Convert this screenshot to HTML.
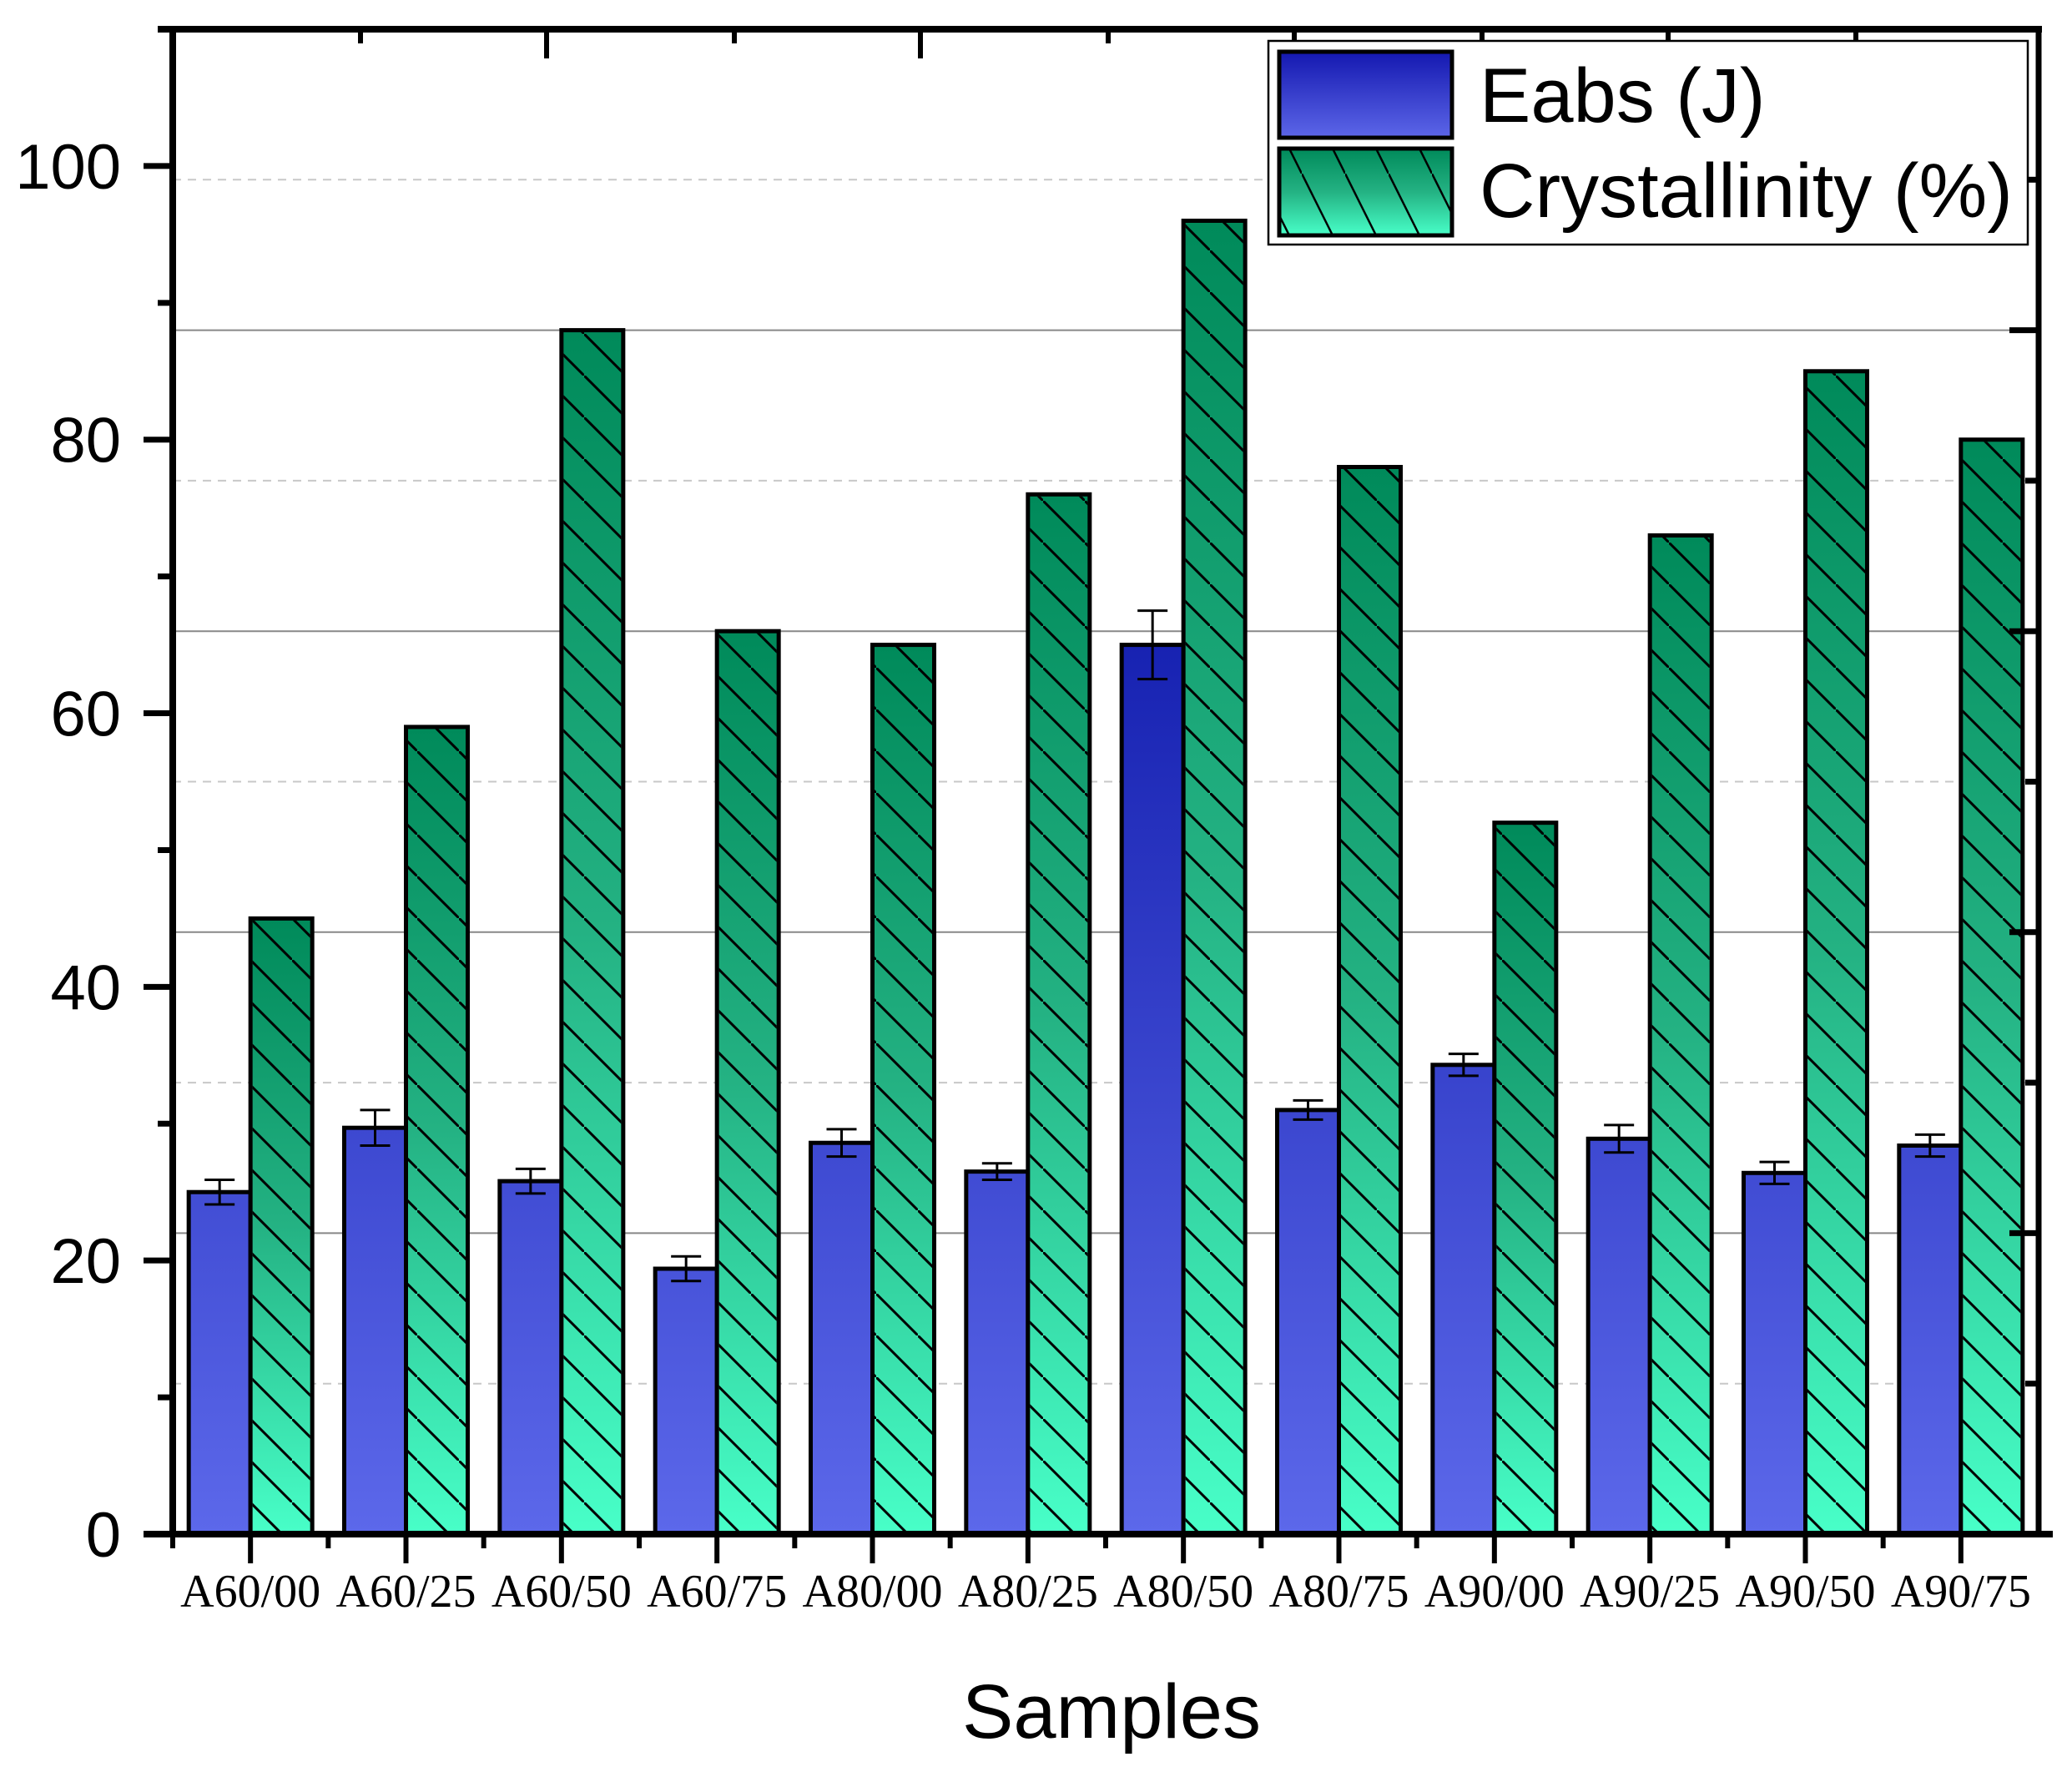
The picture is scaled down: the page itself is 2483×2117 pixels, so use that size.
<!DOCTYPE html>
<html><head><meta charset="utf-8"><style>
html,body{margin:0;padding:0;background:#fff;}
svg{display:block;}
</style></head><body>
<svg id="chart" width="2483" height="2117" viewBox="0 0 2483 2117" xmlns="http://www.w3.org/2000/svg">
<defs>
<linearGradient id="blueGrad" gradientUnits="userSpaceOnUse" x1="0" y1="740" x2="0" y2="1838">
<stop offset="0" stop-color="#1520b0"/><stop offset="1" stop-color="#5c68ea"/>
</linearGradient>
<linearGradient id="blueLeg" x1="0" y1="0" x2="0" y2="1">
<stop offset="0" stop-color="#1418b0"/><stop offset="1" stop-color="#5c66e8"/>
</linearGradient>
<linearGradient id="greenGrad" x1="0" y1="0" x2="0" y2="1">
<stop offset="0" stop-color="#008a5a"/><stop offset="0.5" stop-color="#24b283"/><stop offset="1" stop-color="#48ffc8"/>
</linearGradient>
<pattern id="hatch" patternUnits="userSpaceOnUse" x="0" y="0" width="50" height="50">
<line x1="0" y1="0" x2="50" y2="50" stroke="#000" stroke-width="3"/>
</pattern>
<pattern id="hatchLeg" patternUnits="userSpaceOnUse" width="52" height="104">
<line x1="0" y1="0" x2="52" y2="104" stroke="#000" stroke-width="2.5"/>
</pattern>
</defs>
<g id="grid"></g>
<g id="bars"></g>
<g id="axes"></g>
<g id="legend">
<rect x="1520" y="49" width="910" height="244" fill="#fff" stroke="#000" stroke-width="2.5"/>
<rect x="1533" y="62" width="207" height="103" fill="url(#blueLeg)" stroke="#000" stroke-width="5"/>
<text x="1773" y="146" font-family="Liberation Sans, sans-serif" font-size="92">Eabs (J)</text>
<rect x="1533" y="178" width="207" height="104" fill="url(#greenGrad)" stroke="#000" stroke-width="5"/>
<rect x="1535" y="180" width="203" height="100" fill="url(#hatchLeg)"/>
<text x="1773" y="260" font-family="Liberation Sans, sans-serif" font-size="92">Crystallinity (%)</text>
</g>
<text x="1332" y="2082" text-anchor="middle" font-family="Liberation Sans, sans-serif" font-size="92">Samples</text>
</svg>
<script>
const categories = ["A60/00","A60/25","A60/50","A60/75","A80/00","A80/25","A80/50","A80/75","A90/00","A90/25","A90/50","A90/75"];
const eabsValues = [25, 29.7, 25.8, 19.4, 28.6, 26.5, 65, 31, 34.3, 28.9, 26.4, 28.4];
const eabsErrors = [0.9, 1.3, 0.9, 0.9, 1.0, 0.6, 2.5, 0.7, 0.8, 1.0, 0.8, 0.8];
const crystValues = [45, 59, 88, 66, 65, 76, 96, 78, 52, 73, 85, 80];
const yTicks = [0, 20, 40, 60, 80, 100];
const yMinorTicks = [10, 30, 50, 70, 90];
const rightMajor = [22, 44, 66, 88];
const rightMinor = [11, 33, 55, 77, 99];

const NS = "http://www.w3.org/2000/svg";
const X0 = 207, X1 = 2443, Y0 = 1838, YTOP = 35, YMAX = 110;
const bandW = (X1 - X0) / categories.length;
const BAR_W = 74;
function yScale(v){ return Y0 - (v / YMAX) * (Y0 - YTOP); }
function xCenter(i){ return X0 + bandW * (i + 0.5); }
function mk(tag, attrs, parent){
  const e = document.createElementNS(NS, tag);
  for (const k in attrs) e.setAttribute(k, attrs[k]);
  parent.appendChild(e); return e;
}
const grid = document.getElementById('grid');
const bars = document.getElementById('bars');
const axes = document.getElementById('axes');

rightMajor.forEach(v => {
  const l = mk('line', {x1: X0, x2: X1, y1: yScale(v), y2: yScale(v), stroke: '#888', 'stroke-width': 2}, grid);
  
  
});
rightMinor.forEach(v => {
  const l = mk('line', {x1: X0, x2: X1, y1: yScale(v), y2: yScale(v), stroke: '#c8c8c8', 'stroke-width': 2, 'stroke-dasharray': '10 8'}, grid);
  
  
});

categories.forEach((c, i) => {
  const cx = xCenter(i);
  const yb = yScale(eabsValues[i]);
  const b = mk('rect', {x: cx - BAR_W, y: yb, width: BAR_W, height: Y0 - yb, fill: 'url(#blueGrad)', stroke: '#000', 'stroke-width': 5}, bars);
  
  
  const yg = yScale(crystValues[i]);
  const g = mk('rect', {x: cx, y: yg, width: BAR_W, height: Y0 - yg, fill: 'url(#greenGrad)', stroke: '#000', 'stroke-width': 5}, bars);
  
  
  mk('rect', {x: cx + 2.5, y: yg + 2.5, width: BAR_W - 5, height: Y0 - yg - 5, fill: 'url(#hatch)'}, bars);
  const ex = cx - BAR_W / 2;
  const yh = yScale(eabsValues[i] + eabsErrors[i]), yl = yScale(eabsValues[i] - eabsErrors[i]);
  const eg = mk('g', {stroke: '#000', 'stroke-width': 3}, bars);
  
  
  mk('line', {x1: ex, x2: ex, y1: yh, y2: yl}, eg);
  mk('line', {x1: ex - 18, x2: ex + 18, y1: yh, y2: yh}, eg);
  mk('line', {x1: ex - 18, x2: ex + 18, y1: yl, y2: yl}, eg);
  const t = mk('text', {x: cx, y: 1925, 'text-anchor': 'middle', 'font-family': 'Liberation Serif, serif', 'font-size': 56}, axes);
  t.textContent = c;
  
  
  mk('line', {x1: cx, x2: cx, y1: Y0, y2: 1873, stroke: '#000', 'stroke-width': 6}, axes);
  mk('line', {x1: X0 + bandW * i, x2: X0 + bandW * i, y1: Y0, y2: 1855, stroke: '#000', 'stroke-width': 6}, axes);
});

const la = mk('line', {x1: X0, x2: X0, y1: YTOP - 4, y2: Y0 + 4, stroke: '#000', 'stroke-width': 8}, axes);
 
const ba = mk('line', {x1: 172, x2: 2460, y1: Y0, y2: Y0, stroke: '#000', 'stroke-width': 8}, axes);
 
const ta = mk('line', {x1: 189, x2: X1 + 4, y1: YTOP, y2: YTOP, stroke: '#000', 'stroke-width': 8}, axes);
 
const ra = mk('line', {x1: X1, x2: X1, y1: YTOP - 4, y2: Y0, stroke: '#000', 'stroke-width': 7}, axes);
 

yTicks.forEach(v => {
  mk('line', {x1: 172, x2: X0, y1: yScale(v), y2: yScale(v), stroke: '#000', 'stroke-width': 7}, axes);
  const t = mk('text', {x: 145, y: yScale(v) + 27, 'text-anchor': 'end', 'font-family': 'Liberation Sans, sans-serif', 'font-size': 76}, axes);
  t.textContent = v;
  
  
});
yMinorTicks.forEach(v => {
  mk('line', {x1: 189, x2: X0, y1: yScale(v), y2: yScale(v), stroke: '#000', 'stroke-width': 7}, axes);
});
rightMajor.forEach(v => {
  mk('line', {x1: X1 - 35, x2: X1, y1: yScale(v), y2: yScale(v), stroke: '#000', 'stroke-width': 7}, axes);
});
rightMinor.forEach(v => {
  mk('line', {x1: X1 - 16, x2: X1, y1: yScale(v), y2: yScale(v), stroke: '#000', 'stroke-width': 7}, axes);
});
for (let k = 0; k < 5; k++) {
  const xm = 655 + 448 * k;
  if (xm < X1) mk('line', {x1: xm, x2: xm, y1: YTOP, y2: 70, stroke: '#000', 'stroke-width': 6}, axes);
  const xn = 432 + 448 * k;
  if (xn < X1) mk('line', {x1: xn, x2: xn, y1: YTOP, y2: 52, stroke: '#000', 'stroke-width': 6}, axes);
}
</script>
</body></html>
